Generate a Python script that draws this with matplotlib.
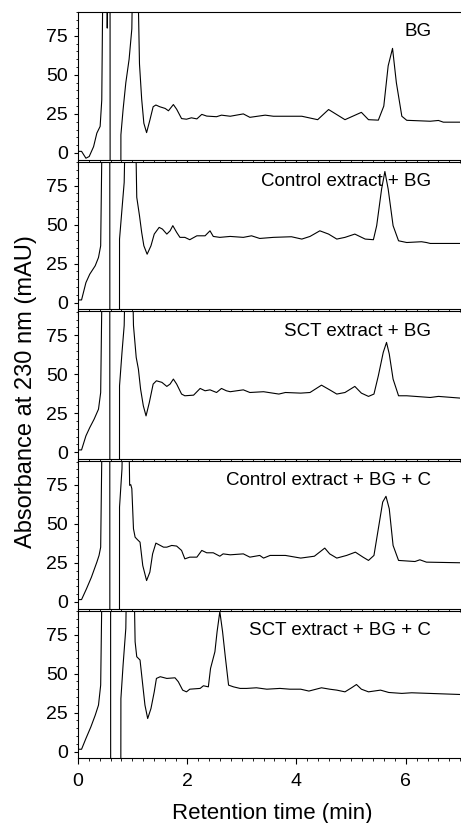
import matplotlib.pyplot as plt
import matplotlib.ticker as ticker

plt.rcParams['font.family'] = ['Liberation Sans', 'DejaVu Sans']

# retention time (min) / absorbance (mAU),
# +-150 / +-300 are off-scale parts (clipped by the axes)
t_bg = [0.00, 0.07, 0.15, 0.21, 0.29, 0.35, 0.41, 0.44, 0.47, 0.52, 0.54, 0.57, 0.59, 0.595,
        0.785, 0.79, 0.83, 0.88, 0.94, 0.99, 1.02, 1.08, 1.13, 1.17, 1.21, 1.26, 1.32, 1.38,
        1.43, 1.50, 1.60, 1.66, 1.75, 1.81, 1.90, 1.99, 2.08, 2.18, 2.27, 2.36, 2.54, 2.63,
        2.79, 3.03, 3.15, 3.43, 3.58, 3.80, 4.10, 4.39, 4.59, 4.89, 5.19, 5.32, 5.50, 5.60,
        5.68, 5.76, 5.83, 5.93, 6.02, 6.45, 6.60, 6.69, 7.00]
a_bg = [1, 1, -3.4, -2.3, 4, 12.7, 17, 34, 150, 150, 80, 150, 300, -300,
        -300, 11.6, 27.8, 45, 60, 79.5, 150, 150, 57, 34.5, 19, 13, 21, 29.6,
        30.7, 29.6, 28.5, 27, 31, 28, 22, 21.6, 22.5, 21.8, 24.7, 23.6, 23.2, 24.2,
        23.5, 25, 22.8, 24.2, 23.5, 23.5, 23.5, 21.3, 27.8, 21.3, 26, 21.3, 21, 30,
        55.8, 67, 45, 23.5, 20.9, 20.3, 20.8, 19.7, 19.7]

t_ctrl = [0.00, 0.07, 0.15, 0.22, 0.32, 0.38, 0.42, 0.46, 0.585, 0.59, 0.76, 0.765, 0.81,
          0.85, 0.89, 1.04, 1.08, 1.13, 1.17, 1.21, 1.27, 1.34, 1.40, 1.49, 1.55, 1.63,
          1.69, 1.74, 1.81, 1.87, 1.96, 2.05, 2.18, 2.33, 2.42, 2.48, 2.60, 2.79, 3.03,
          3.18, 3.33, 3.58, 3.91, 4.10, 4.25, 4.43, 4.59, 4.74, 4.89, 5.07, 5.26, 5.41,
          5.47, 5.56, 5.62, 5.68, 5.77, 5.87, 6.02, 6.29, 6.38, 6.45, 7.00]
a_ctrl = [1.7, 1.7, 12.8, 18.2, 23.6, 28.9, 36.4, 150, 300, -300, -300, 40.7, 60,
          77, 150, 150, 67.5, 55.7, 45, 36.4, 31, 36.4, 43.9, 48.2, 47.1, 43.9,
          46, 49.3, 45, 41.8, 41.8, 40.3, 42.8, 42.8, 46, 42.4, 41.8, 42.4, 41.8,
          42.8, 41.1, 41.8, 42.2, 40.7, 42.4, 46, 43.9, 40.7, 41.8, 43.9, 40.7, 40.3,
          49.3, 72.8, 84, 72.8, 49.3, 39.6, 38.5, 39, 38.5, 37.9, 37.9]

t_sct = [0.00, 0.07, 0.15, 0.22, 0.30, 0.38, 0.42, 0.46, 0.585, 0.59, 0.76, 0.765, 0.81,
         0.85, 0.89, 0.98, 1.02, 1.07, 1.11, 1.15, 1.20, 1.25, 1.31, 1.38, 1.44, 1.54,
         1.63, 1.69, 1.75, 1.81, 1.90, 1.96, 2.12, 2.24, 2.33, 2.42, 2.54, 2.63, 2.72,
         2.79, 3.03, 3.15, 3.40, 3.68, 3.80, 4.08, 4.25, 4.46, 4.61, 4.74, 4.89, 5.07,
         5.19, 5.32, 5.42, 5.50, 5.59, 5.65, 5.70, 5.77, 5.87, 6.02, 6.45, 6.60, 7.00]
a_sct = [1.5, 1.5, 10.5, 15.8, 21.2, 27.6, 38.3, 150, 300, -300, -300, 42.6, 64,
         81.2, 150, 150, 81.2, 60.8, 53.3, 40.5, 29.8, 23.3, 31.9, 43.7, 45.8, 44.8,
         42.2, 43.7, 46.9, 43.7, 37.3, 36.2, 36.6, 40.9, 39.4, 40, 38.3, 40.9, 39.4,
         38.8, 40, 38.3, 38.8, 37.3, 38.3, 37.9, 38.3, 43, 40, 37.3, 38.3, 42.2,
         37.9, 35.8, 37.3, 49, 64, 70.4, 63, 46.9, 36.2, 36.2, 35.1, 35.8, 34.7]

t_ctrl_c = [0.00, 0.07, 0.16, 0.25, 0.35, 0.39, 0.42, 0.46, 0.585, 0.59, 0.76, 0.765, 0.81,
            0.84, 0.92, 0.95, 0.97, 0.99, 1.02, 1.05, 1.09, 1.14, 1.19, 1.26, 1.32, 1.37,
            1.43, 1.57, 1.63, 1.72, 1.81, 1.90, 1.96, 2.05, 2.18, 2.27, 2.36, 2.48, 2.60,
            2.66, 2.79, 3.03, 3.15, 3.33, 3.40, 3.52, 3.80, 4.08, 4.33, 4.52, 4.61, 4.74,
            4.92, 5.08, 5.22, 5.32, 5.42, 5.50, 5.58, 5.64, 5.70, 5.77, 5.87, 6.17, 6.26,
            6.38, 7.00]
a_ctrl_c = [1.5, 1.5, 8.4, 15.8, 25.5, 29.8, 35.1, 150, 300, -300, -300, 60.8, 85.4,
            150, 150, 74.7, 75.2, 72.6, 46.9, 41.5, 40, 38.3, 23.3, 13.7, 19.1, 30.8,
            37.7, 35.1, 35.1, 36.2, 35.8, 33, 27.6, 28.7, 28.7, 33, 31.5, 31.5, 29.3,
            30.8, 30.2, 30.8, 28.7, 29.8, 28.1, 29.8, 29.8, 28.1, 29.3, 34.5, 30.8, 28.1,
            29.8, 31.9, 28.7, 26.6, 29.8, 46.9, 64, 67.7, 59.7, 36.2, 26.6, 25.9, 27,
            25.5, 25.1]

t_sct_c = [0.00, 0.07, 0.15, 0.24, 0.32, 0.38, 0.42, 0.46, 0.60, 0.605, 0.78, 0.79, 0.83,
           0.88, 0.91, 1.01, 1.05, 1.08, 1.14, 1.19, 1.23, 1.28, 1.34, 1.40, 1.44, 1.51,
           1.63, 1.78, 1.84, 1.92, 1.99, 2.05, 2.24, 2.30, 2.39, 2.43, 2.51, 2.55, 2.60,
           2.65, 2.70, 2.76, 2.85, 2.97, 3.09, 3.27, 3.46, 3.70, 3.88, 4.08, 4.23, 4.46,
           4.61, 4.74, 4.89, 5.01, 5.10, 5.19, 5.32, 5.54, 5.69, 5.93, 6.11, 7.00]
a_sct_c = [1.5, 1.5, 8.4, 15.8, 23.3, 29.8, 42.6, 150, 300, -300, -300, 34, 55.5,
           79, 150, 150, 70.4, 60.8, 58.7, 42.6, 29.8, 21.2, 27.6, 38.3, 46.9, 48,
           46.9, 47.3, 44.8, 39.4, 38.3, 40, 40.5, 42.2, 41.5, 53.3, 64, 76.9, 89.7,
           76.9, 60.8, 42.6, 41.5, 40.5, 40.5, 40.9, 40, 40.5, 40, 40, 38.8, 40.9,
           40, 39.4, 38.3, 40.9, 43, 40, 38.3, 39.4, 37.9, 37.3, 37.7, 36.6]

labels = ['BG', 'Control extract + BG', 'SCT extract + BG',
          'Control extract + BG + C', 'SCT extract + BG + C']
times = [t_bg, t_ctrl, t_sct, t_ctrl_c, t_sct_c]
absorb = [a_bg, a_ctrl, a_sct, a_ctrl_c, a_sct_c]

fig, axes = plt.subplots(5, 1, sharex=True, figsize=(4.61, 8.23), dpi=100)
fig.subplots_adjust(left=0.1686, right=0.9985, top=0.9854, bottom=0.0786, hspace=0.014)

for ax, t, a, lab in zip(axes, times, absorb, labels):
    ax.plot(t, a, color='black', lw=0.8)
    ax.set_xlim(0, 7)
    ax.set_ylim(-4.3, 90.3)
    ax.yaxis.set_major_locator(ticker.MultipleLocator(25))
    ax.yaxis.set_minor_locator(ticker.MultipleLocator(5))
    ax.xaxis.set_major_locator(ticker.MultipleLocator(2))
    ax.xaxis.set_minor_locator(ticker.MultipleLocator(0.2))
    ax.tick_params(axis='y', which='major', length=3, width=0.8, pad=4, labelsize=14)
    ax.tick_params(axis='y', which='minor', length=1.8, width=0.6)
    ax.tick_params(axis='x', which='major', length=4.5, width=0.8, pad=6, labelsize=14)
    ax.tick_params(axis='x', which='minor', length=2.5, width=0.6)
    ax.spines['right'].set_visible(False)
    for s in ['left', 'top', 'bottom']:
        ax.spines[s].set_linewidth(0.8)
    ax.text(6.47, 0.866, lab, transform=ax.get_xaxis_transform(),
            ha='right', va='center', fontsize=13.5)

fig.text(272 / 461, 1 - 813 / 823, 'Retention time (min)', ha='center', va='center', fontsize=16)
fig.text(26 / 461, 1 - 392 / 823, 'Absorbance at 230 nm (mAU)', rotation=90,
         ha='center', va='center', fontsize=17)

plt.savefig('out.png', dpi=100)
